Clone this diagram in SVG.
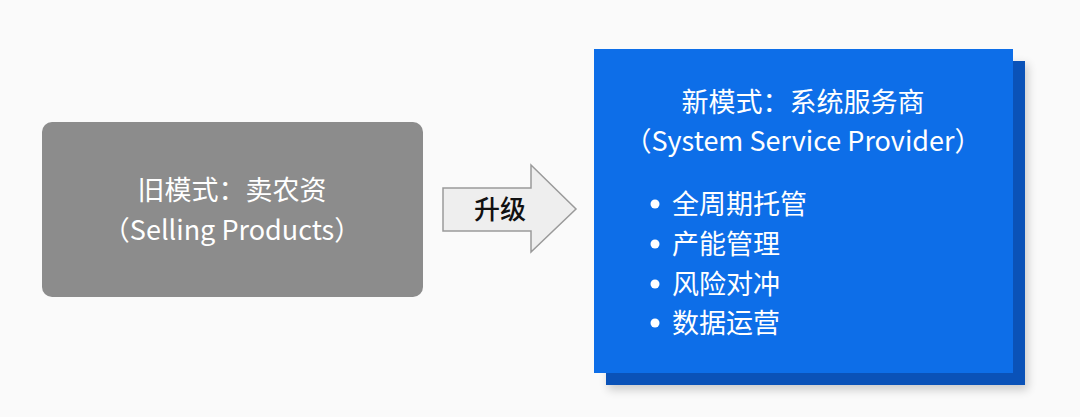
<svg xmlns="http://www.w3.org/2000/svg" width="1080" height="417" viewBox="0 0 1080 417">
<style>
text{font-family:"Noto Sans CJK SC","Noto Sans",sans-serif;font-size:27px;}
.w{fill:#ffffff;}
.c{text-anchor:middle;}
</style>
<defs>
<filter id="soft" x="-10%" y="-10%" width="130%" height="130%">
<feGaussianBlur stdDeviation="5"/>
</filter>
</defs>
<rect width="1080" height="417" fill="#fafafa"/>
<g id="old">
<rect x="42" y="122" width="381" height="175" rx="10" fill="#8c8c8c"/>
<text class="w c" x="232" y="200" fill="#f2f2f2">旧模式：卖农资</text>
<text class="w c" x="232" y="240" fill="#f2f2f2">（Selling Products）</text>
</g>
<g id="connectors">
<polygon points="443,188 531,188 531,165 576,209 531,252 531,231 443,231" fill="#eeeeee" stroke="#9a9a9a" stroke-width="1.5"/>
<text x="500" y="219" class="c" fill="#111111" font-weight="500" style="font-size:26px">升级</text>
</g>
<g id="new">
<rect x="608" y="64" width="420" height="326" fill="#000" opacity="0.18" filter="url(#soft)"/>
<rect x="606" y="61" width="419" height="324" fill="#0a52b8"/>
<rect x="594" y="49" width="419" height="324" fill="#0d6ee8"/>
<text class="w c" x="803" y="112">新模式：系统服务商</text>
<text class="w c" x="803" y="151">（System Service Provider）</text>
<circle cx="655" cy="204" r="4.5" fill="#fff"/>
<circle cx="655" cy="244" r="4.5" fill="#fff"/>
<circle cx="655" cy="284" r="4.5" fill="#fff"/>
<circle cx="655" cy="323" r="4.5" fill="#fff"/>
<text class="w" x="672" y="214">全周期托管</text>
<text class="w" x="672" y="254">产能管理</text>
<text class="w" x="672" y="294">风险对冲</text>
<text class="w" x="672" y="333">数据运营</text>
</g>
</svg>
